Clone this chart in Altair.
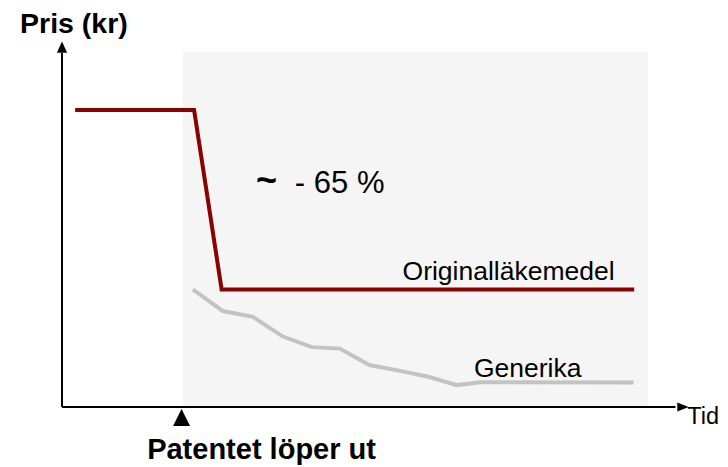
import altair as alt
import pandas as pd

# Original drug price (time index, price index)
orig_t = [2.1, 21.1, 25.5, 91.4]
orig_p = [81.4, 81.4, 32.2, 32.2]

# Generic price
gen_t = [20.9, 25.7, 30.5, 35.3, 39.9, 44.4, 49.1, 54.0, 58.5, 63.1, 66.8, 91.3]
gen_p = [32.2, 26.3, 24.7, 19.3, 16.4, 16.0, 11.5, 9.9, 8.3, 6.0, 6.8, 6.7]

# Patent expiry time and shaded post-patent period
patent_t = 19.1
shade_t = [19.3, 93.6]
shade_p = [0, 97.3]

# Axis extents
axis_t_end = 98.0
axis_p_end = 97.0
arrow_t = 99.2
arrow_p = 98.6

# Labels
bold_labels = ["Pris (kr)", "~", "Patentet löper ut"]
bold_t = [-6.7, 31.0, 13.6]
bold_p = [102.4, 58.9, -14.3]
bold_size = [28.5, 36, 29]

reg_labels = ["- 65 %", "Originalläkemedel", "Generika", "Tid"]
reg_t = [37.2, 54.4, 65.8, 99.9]
reg_p = [58.5, 34.8, 8.3, -4.6]
reg_size = [31, 26.5, 26.5, 23.5]

FONT = "Liberation Sans"

xs = alt.Scale(domain=[0, 100], range=[54, 680])
ys = alt.Scale(domain=[0, 100], range=[399, 34])

orig_df = pd.DataFrame({"t": orig_t, "p": orig_p})
gen_df = pd.DataFrame({"t": gen_t, "p": gen_p})
shade_df = pd.DataFrame({"t": [shade_t[0]], "t2": [shade_t[1]], "p": [shade_p[0]], "p2": [shade_p[1]]})
xaxis_df = pd.DataFrame({"t": [0], "t2": [axis_t_end], "p": [0]})
yaxis_df = pd.DataFrame({"t": [0], "p": [0], "p2": [axis_p_end]})
arr_x_df = pd.DataFrame({"t": [arrow_t], "p": [0]})
arr_y_df = pd.DataFrame({"t": [0], "p": [arrow_p]})
pat_df = pd.DataFrame({"t": [patent_t], "p": [-2.9]})
bold_df = pd.DataFrame({"t": bold_t, "p": bold_p, "label": bold_labels, "s": bold_size})
reg_df = pd.DataFrame({"t": reg_t, "p": reg_p, "label": reg_labels, "s": reg_size})

X = lambda f="t": alt.X(f, type="quantitative", scale=xs, axis=None)
Y = lambda f="p": alt.Y(f, type="quantitative", scale=ys, axis=None)

shade = alt.Chart(shade_df).mark_rect(color="#f5f5f5").encode(
    x=X(), x2="t2", y=Y(), y2="p2")

xaxis = alt.Chart(xaxis_df).mark_rule(color="black", strokeWidth=2).encode(
    x=X(), x2="t2", y=Y())
yaxis = alt.Chart(yaxis_df).mark_rule(color="black", strokeWidth=2).encode(
    x=X(), y=Y(), y2="p2")

arr_x = alt.Chart(arr_x_df).mark_point(
    shape="M-1,-0.8L1,0L-1,0.8Z", filled=True, color="black", opacity=1, size=130
).encode(x=X(), y=Y())
arr_y = alt.Chart(arr_y_df).mark_point(
    shape="M-0.9,1L0,-1L0.9,1Z", filled=True, color="black", opacity=1, size=130
).encode(x=X(), y=Y())
pat = alt.Chart(pat_df).mark_point(
    shape="M-1,1L0,-1L1,1Z", filled=True, color="black", opacity=1, size=289
).encode(x=X(), y=Y())

gen = alt.Chart(gen_df).mark_line(color="#c3c3c3", strokeWidth=4).encode(
    x=X(), y=Y(), order=alt.Order("t:Q"))
orig = alt.Chart(orig_df).mark_line(color="#8b0000", strokeWidth=4, strokeJoin="miter").encode(
    x=X(), y=Y(), order=alt.Order("t:Q"))

bold_text = alt.Chart(bold_df).mark_text(
    font=FONT, fontWeight="bold", align="left", baseline="alphabetic", color="black"
).encode(x=X(), y=Y(), text="label:N", size=alt.Size("s:Q", scale=None, legend=None))

reg_text = alt.Chart(reg_df).mark_text(
    font=FONT, align="left", baseline="alphabetic", color="black"
).encode(x=X(), y=Y(), text="label:N", size=alt.Size("s:Q", scale=None, legend=None))

chart = alt.layer(
    shade, gen, orig, xaxis, yaxis, arr_x, arr_y, pat, bold_text, reg_text
).properties(
    width=712, height=459, padding=0, autosize="none"
).configure_view(stroke=None)

chart.save("out.html", embed_options={"renderer": "svg", "actions": False})
